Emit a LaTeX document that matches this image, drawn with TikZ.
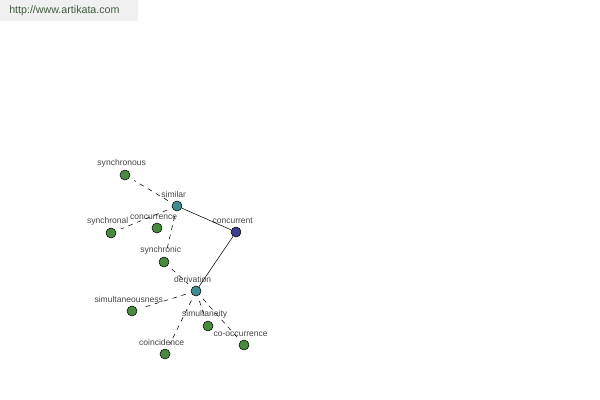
\documentclass[tikz,border=0pt]{standalone}
\usepackage{fontspec}
\setmainfont{Liberation Sans}
\usepackage{xcolor}
\usetikzlibrary{positioning}
\definecolor{wordgreen}{HTML}{4A8A3E}
\definecolor{hubteal}{HTML}{3E8C8E}
\definecolor{rootblue}{HTML}{3B3F8C}
\definecolor{lbltext}{HTML}{444444}
\definecolor{sitetext}{HTML}{3F5A3F}
\tikzset{
    x=0.75pt, y=-0.75pt, % one unit is one pixel of the reference
    word/.style={circle, draw=black, thin, fill=wordgreen, minimum size=7.5pt, inner sep=0pt}, % a plain word
    hub/.style={word, fill=hubteal}, % a word with links
    root/.style={word, fill=rootblue}, % the looked-up word
    every label/.style={text=lbltext, font=\fontsize{6.4}{7}\selectfont, inner sep=1pt, xshift=-2.5pt},
    label distance=0.8pt,
    near/.style={dashed, dash pattern=on 3.5pt off 3.5pt, shorten <=4pt, shorten >=4pt}, % weak link
    strong/.style={thin}, % direct link
}

\begin{document}
\begin{tikzpicture}
    \useasboundingbox (0,0) rectangle (600,400);
    \fill[gray!12] (0,0) rectangle (138,21);
    \node[anchor=west, text=sitetext, font=\fontsize{8}{9}\selectfont, inner sep=0pt] (site) at (9,11) {http://www.artikata.com};

    \node[root, label=above:concurrent] (concurrent) at (236,232) {};
    \node[hub, label=above:similar] (similar) at (177,206) {};
    \node[hub, label=above:derivation] (derivation) at (196,291) {};
    \node[word, label=above:synchronous] (synchronous) at (125,175) {};
    \node[word, label=above:synchronal] (synchronal) at (111,233) {};
    \node[word, label=above:concurrence] (concurrence) at (157,228) {};
    \node[word, label=above:synchronic] (synchronic) at (164,262) {};
    \node[word, label=above:simultaneousness] (simultaneousness) at (132,311) {};
    \node[word, label=above:simultaneity] (simultaneity) at (208,326) {};
    \node[word, label=above:co-occurrence] (cooccurrence) at (244,345) {};
    \node[word, label=above:coincidence] (coincidence) at (165,354) {};

    \draw[strong] (similar) -- (concurrent);
    \draw[strong] (concurrent) -- (derivation);
    \draw[near]
        (similar) edge (synchronous)
        (similar) edge (synchronal)
        (similar) edge (synchronic)
        (synchronic) edge (derivation)
        (derivation) edge (simultaneousness)
        (derivation) edge (simultaneity)
        (derivation) edge (cooccurrence)
        (derivation) edge (coincidence);
\end{tikzpicture}
\end{document}
